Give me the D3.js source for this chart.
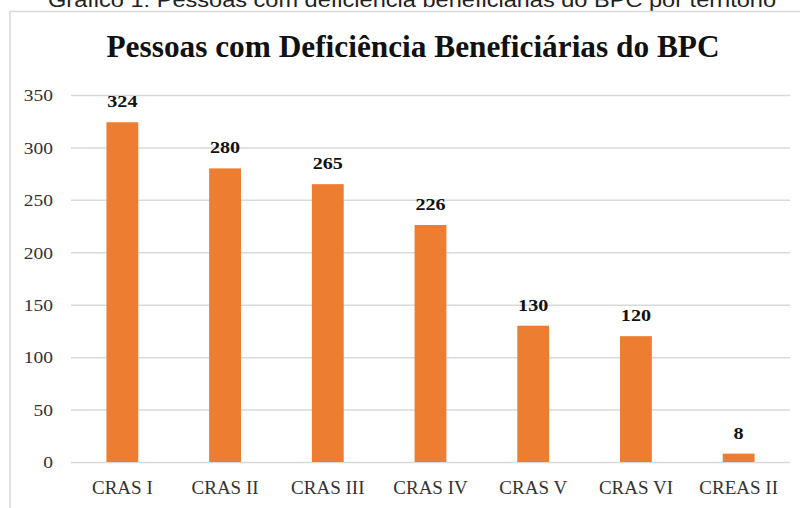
<!DOCTYPE html>
<html>
<head>
<meta charset="utf-8">
<script src="https://cdn.jsdelivr.net/npm/d3@7"></script>
<style>
  html, body { margin: 0; padding: 0; background: #fff; }
  svg { display: block; }
</style>
</head>
<body>
<svg id="chart" width="800" height="508"></svg>
<script>
// Beneficiaries by territory
const categories = ["CRAS I", "CRAS II", "CRAS III", "CRAS IV", "CRAS V", "CRAS VI", "CREAS II"];
const values = [324, 280, 265, 226, 130, 120, 8];
const yTicks = [0, 50, 100, 150, 200, 250, 300, 350];
const titleText = "Pessoas com Deficiência Beneficiárias do BPC";
const captionText = "Gráfico 1: Pessoas com deficiência beneficiárias do BPC por território";

const svg = d3.select("#chart");
const serif = "'Liberation Serif', 'Times New Roman', serif";

const plot = { left: 71, right: 790, top: 95, bottom: 462 };

const x = d3.scaleBand()
  .domain(categories)
  .range([plot.left, plot.right])
  .paddingInner(0.69)
  .paddingOuter(0.345);

const y = d3.scaleLinear()
  .domain([0, 350])
  .range([plot.bottom, plot.top]);

// caption above the chart frame (partly cut by the top edge)
svg.append("text")
  .attr("x", 412).attr("y", 7)
  .attr("text-anchor", "middle")
  .attr("font-family", "'Liberation Sans', Arial, sans-serif")
  .attr("font-size", 20)
  .attr("fill", "#222")
  .attr("textLength", 728)
  .attr("lengthAdjust", "spacingAndGlyphs")
  .text(captionText);

// chart frame
svg.append("rect")
  .attr("x", 10).attr("y", 11.5)
  .attr("width", 820).attr("height", 520)
  .attr("fill", "#fff")
  .attr("stroke", "#d9d9d9")
  .attr("stroke-width", 1.5);

// title
svg.append("text")
  .attr("x", 413).attr("y", 57)
  .attr("text-anchor", "middle")
  .attr("font-family", serif)
  .attr("font-weight", "bold")
  .attr("font-size", 32)
  .attr("fill", "#111")
  .attr("textLength", 613)
  .attr("lengthAdjust", "spacingAndGlyphs")
  .text(titleText);

// gridlines and y labels
const yAxis = d3.axisLeft(y)
  .tickValues(yTicks)
  .tickSize(-(plot.right - plot.left))
  .tickPadding(18)
  .tickFormat(d3.format("d"));

const gy = svg.append("g")
  .attr("transform", `translate(${plot.left},0)`)
  .call(yAxis);
gy.select(".domain").remove();
gy.selectAll(".tick line")
  .attr("stroke", "#d9d9d9")
  .attr("stroke-width", 1.5);
gy.selectAll(".tick text")
  .attr("font-family", serif)
  .attr("font-size", 16.5)
  .attr("fill", "#333")
  .attr("text-anchor", "end")
  .attr("x", 0)
  .attr("dy", "0.35em")
  .attr("transform", "translate(-18,0) scale(1.18,1)");

// bars
svg.append("g").selectAll("rect")
  .data(values)
  .join("rect")
  .attr("x", (d, i) => x(categories[i]))
  .attr("width", x.bandwidth())
  .attr("y", d => y(d))
  .attr("height", d => y(0) - y(d))
  .attr("fill", "#ED7D31");

// value labels
svg.append("g").selectAll("text")
  .data(values)
  .join("text")
  .attr("transform", (d, i) =>
    `translate(${x(categories[i]) + x.bandwidth() / 2},${y(d) - 15}) scale(1.22,1)`)
  .attr("text-anchor", "middle")
  .attr("font-family", serif)
  .attr("font-weight", "bold")
  .attr("font-size", 16.5)
  .attr("fill", "#111")
  .text(d => d);

// category labels
const xAxis = d3.axisBottom(x).tickSize(0).tickPadding(0);
const gx = svg.append("g")
  .attr("transform", `translate(0,${plot.bottom})`)
  .call(xAxis);
gx.select(".domain").remove();
gx.selectAll(".tick text")
  .attr("font-family", serif)
  .attr("font-size", 19)
  .attr("fill", "#333")
  .attr("dy", null)
  .attr("y", 0)
  .attr("transform", "translate(0,32)");
</script>
</body>
</html>
